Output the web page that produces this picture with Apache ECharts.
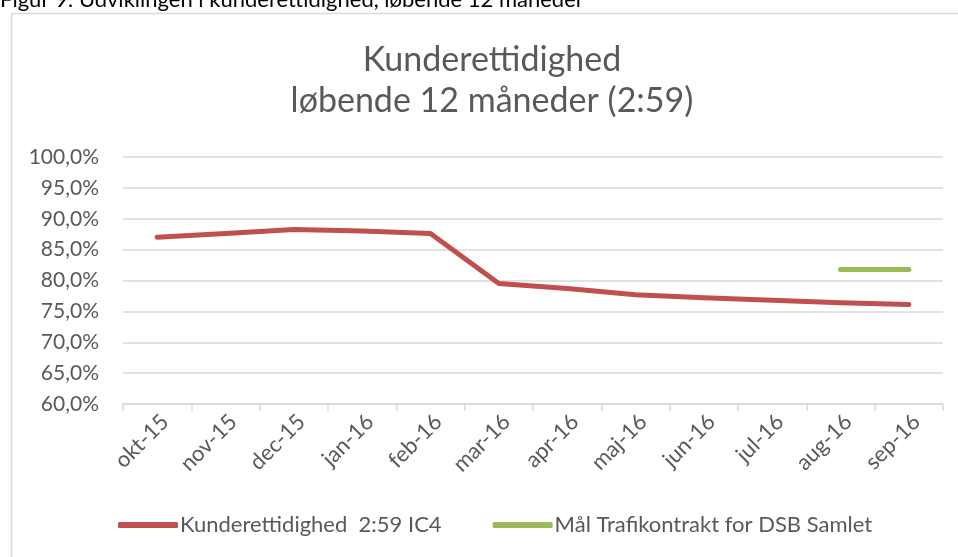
<!DOCTYPE html>
<html>
<head>
<meta charset="utf-8">
<script src="https://cdn.jsdelivr.net/npm/echarts@6/dist/echarts.min.js"></script>
<style>
html,body{margin:0;padding:0;background:#fff;}
#c{width:958px;height:557px;}
</style>
</head>
<body>
<div id="c"></div>
<script>
const categories = ['okt-15','nov-15','dec-15','jan-16','feb-16','mar-16','apr-16','maj-16','jun-16','jul-16','aug-16','sep-16'];
const kunderettidighed = [87.0, 87.6, 88.25, 88.0, 87.6, 79.5, 78.7, 77.7, 77.2, 76.8, 76.4, 76.1];
const maalTrafikkontrakt = [null, null, null, null, null, null, null, null, null, null, 81.8, 81.8];
const yTicks = [60, 65, 70, 75, 80, 85, 90, 95, 100];
const seriesNames = ['Kunderettidighed  2:59 IC4', 'Mål Trafikontrakt for DSB Samlet'];

const FONT = 'Lato';
const TXT = '#595959';
const chart = echarts.init(document.getElementById('c'), null, {renderer:'canvas'});
chart.setOption({
  backgroundColor:'#fff',
  animation:false,
  textStyle:{fontFamily:FONT},
  graphic:[
    {type:'text', left:0, top:-11, style:{text:'Figur 9: Udviklingen i kunderettidighed, løbende 12 måneder', fontFamily:FONT, fontSize:22, fill:'#000'}},
    {type:'rect', shape:{x:11.5, y:13.5, width:960, height:560}, style:{fill:'none', stroke:'#D9D9D9', lineWidth:1.5}}
  ],
  title:{
    text:'Kunderettidighed\nløbende 12 måneder (2:59)',
    left:492, top:40, textAlign:'center', padding:0,
    textStyle:{fontFamily:FONT, fontSize:34, fontWeight:'normal', color:TXT, lineHeight:41}
  },
  legend:{
    left:118, top:514, padding:0,
    itemWidth:60, itemHeight:6, itemGap:51,
    icon:'roundRect',
    textStyle:{fontFamily:FONT, fontSize:22, color:TXT, padding:[0,0,0,-3]},
    data:seriesNames
  },
  grid:{left:123, right:15, top:157, bottom:153, containLabel:false},
  xAxis:{
    type:'category', data:categories, boundaryGap:true,
    axisLine:{lineStyle:{color:'#D9D9D9', width:1.5}},
    axisTick:{show:true, length:7, lineStyle:{color:'#D9D9D9', width:1.5}},
    axisLabel:{rotate:45, fontSize:22, color:TXT, margin:22, padding:[0,-11,0,0], fontFamily:FONT}
  },
  yAxis:{
    type:'value', min:60, max:100, interval:5,
    axisLine:{show:false}, axisTick:{show:false},
    splitLine:{lineStyle:{color:'#D9D9D9', width:1.5}},
    axisLabel:{fontSize:21, color:TXT, margin:24, fontFamily:FONT,
      formatter:v=>v.toFixed(1).replace('.',',')+'%'}
  },
  series:[
    {name:seriesNames[0], type:'line', data:kunderettidighed, showSymbol:false, symbol:'none',
     lineStyle:{color:'#C0504D', width:5, cap:'round', join:'round'}, itemStyle:{color:'#C0504D'}},
    {name:seriesNames[1], type:'line', data:maalTrafikkontrakt, showSymbol:false, symbol:'none',
     lineStyle:{color:'#9BBB59', width:5, cap:'round'}, itemStyle:{color:'#9BBB59'}}
  ]
});
</script>
</body>
</html>
